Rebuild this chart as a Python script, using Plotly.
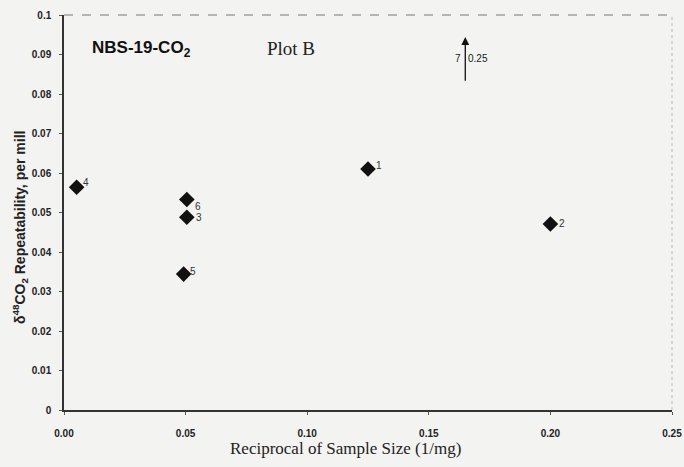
import plotly.graph_objects as go

# Repeatability of delta-48 CO2 versus reciprocal sample size (NBS-19-CO2)
run_labels = ["1", "2", "3", "4", "5", "6"]
recip_size = [0.125, 0.200, 0.0505, 0.0052, 0.0492, 0.0505]
repeatability = [0.0610, 0.0471, 0.0488, 0.0564, 0.0344, 0.0533]
# label offsets from each marker, in pixels
label_dx = [11, 12, 12, 9, 9, 11]
label_dy = [4, 0, 0, 5, 3, -7]

# Run 7 lies off scale; it is marked with an arrow at its x position
offscale_label = "7"
offscale_x = 0.165
offscale_value = "0.25"

x_ticks = [0.00, 0.05, 0.10, 0.15, 0.20, 0.25]
y_ticks = [0, 0.01, 0.02, 0.03, 0.04, 0.05, 0.06, 0.07, 0.08, 0.09, 0.1]

bg = "#f3f3f1"
sans = "Liberation Sans, Arial, sans-serif"
serif = "Liberation Serif, Times New Roman, serif"

fig = go.Figure()
fig.add_trace(go.Scatter(
    x=recip_size, y=repeatability,
    mode="markers",
    marker=dict(symbol="diamond", size=12, color="#111"),
    cliponaxis=False,
    showlegend=False,
))

for lab, xv, yv, dx, dy in zip(run_labels, recip_size, repeatability, label_dx, label_dy):
    fig.add_annotation(x=xv, y=yv, xref="x", yref="y", text=lab, showarrow=False,
                       xshift=dx, yshift=dy,
                       font=dict(family=sans, size=10, color="#333"))

# Upward arrow for the off-scale run
fig.add_annotation(x=offscale_x, y=0.0944, ax=offscale_x, ay=0.083,
                   xref="x", yref="y", axref="x", ayref="y",
                   text="", showarrow=True, arrowhead=2, arrowsize=1.2,
                   arrowwidth=1.3, arrowcolor="#111")
fig.add_annotation(x=offscale_x, y=0.0889, xref="x", yref="y",
                   text=offscale_label, showarrow=False, xanchor="right", xshift=-2,
                   font=dict(family=sans, size=10, color="#222"))
fig.add_annotation(x=offscale_x, y=0.0889, xref="x", yref="y",
                   text=offscale_value, showarrow=False, xanchor="left", xshift=1,
                   font=dict(family=sans, size=10, color="#222"))

fig.add_annotation(x=0.0105, y=0.0915, xref="x", yref="y", xanchor="left",
                   text="<b>NBS-19-CO<sub>2</sub></b>", showarrow=False,
                   font=dict(family=sans, size=17, color="#111"))
fig.add_annotation(x=0.0825, y=0.0915, xref="x", yref="y", xanchor="left",
                   text="Plot B", showarrow=False,
                   font=dict(family=serif, size=19, color="#222"))

# Axis titles
fig.add_annotation(x=345, y=448, xref="paper", yref="paper", text="Reciprocal of Sample Size (1/mg)",
                   showarrow=False, font=dict(family=serif, size=17, color="#222"))
fig.add_annotation(x=20, y=228, xref="paper", yref="paper", textangle=-90,
                   text="<b>δ<sup>48</sup>CO<sub>2</sub> Repeatability, per mill</b>",
                   showarrow=False, font=dict(family=sans, size=14, color="#222"))
# convert the pixel positions of the two titles to paper fractions
W, H = 684, 467
L, R, T, B = 64, 12, 15, 57
pw, ph = W - L - R, H - T - B
anns = list(fig.layout.annotations)
anns[-2].update(x=(345 - L) / pw, y=(H - B - 448) / ph, yanchor="middle")
anns[-1].update(x=(20 - L) / pw, y=(H - B - 228) / ph, xanchor="center")
fig.layout.annotations = anns

# Dashed top and faint right frame lines
fig.add_shape(type="line", xref="paper", yref="paper", x0=0, x1=1, y0=1, y1=1,
              line=dict(color="#777", width=1, dash="dash"))
fig.add_shape(type="line", xref="paper", yref="paper", x0=1, x1=1, y0=0, y1=1,
              line=dict(color="#bbb", width=1, dash="dot"))

fig.update_xaxes(range=[0, 0.25], tickvals=x_ticks,
                 ticktext=[f"{v:.2f}" for v in x_ticks],
                 showgrid=False, zeroline=False, showline=True, automargin=False,
                 linecolor="#333", linewidth=1.5, ticks="outside", ticklen=3,
                 tickcolor="#555", ticklabelstandoff=10,
                 tickfont=dict(family=sans, size=10, color="#222", weight="bold"))
fig.update_yaxes(range=[0, 0.1], tickvals=y_ticks,
                 ticktext=["0"] + [f"{v:g}" for v in y_ticks[1:]],
                 showgrid=False, zeroline=False, showline=True, automargin=False,
                 linecolor="#333", linewidth=1.5, ticks="outside", ticklen=3,
                 tickcolor="#555", ticklabelstandoff=6,
                 tickfont=dict(family=sans, size=10, color="#222", weight="bold"))

fig.update_layout(width=W, height=H,
                  margin=dict(l=L, r=R, t=T, b=B, autoexpand=False),
                  paper_bgcolor=bg, plot_bgcolor=bg)

fig.write_html("out.html")
